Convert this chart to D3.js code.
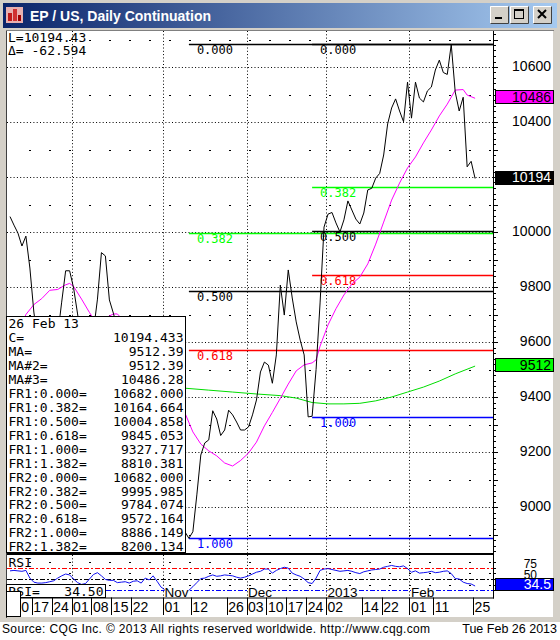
<!DOCTYPE html>
<html>
<head>
<meta charset="utf-8">
<script src="https://cdn.jsdelivr.net/npm/d3@7"></script>
<style>
  body { margin: 0; background: #fff; }
  svg { display: block; }
</style>
</head>
<body>
<div id="wrapper"></div>
<script>
// 1. Data (day index 0 = 7 Sep 2012, last = 25/26 Feb 2013)
const closes = [
  10056, 10025, 9996, 9949, 9985, 9869, 9709, 9600, 9540, 9500,
  9520, 9580, 9625, 9745, 9859, 9859, 9796, 9702, 9600, 9550,
  9580, 9640, 9756, 9925, 9913, 9753, 9705, 9650, 9620, 9570,
  9520, 9480, 9500, 9450, 9420, 9380, 9400, 9340, 9290, 9240,
  9190, 9120, 9060, 8990, 8910, 8886.149, 8910, 9044, 9189, 9233,
  9244, 9350, 9320, 9260, 9280, 9352, 9335, 9309, 9280, 9280,
  9291, 9335, 9389, 9491, 9527, 9516, 9450, 9553, 9807, 9698,
  9862, 9760, 9673, 9607, 9553, 9327.717, 9330, 9500, 9742, 10018,
  10065, 10071, 10033, 10000, 10044, 10113, 10080, 10047, 10029, 10069,
  10153, 10159, 10196, 10213, 10280, 10393, 10451, 10484, 10440, 10401,
  10545, 10414, 10545, 10487, 10473, 10513, 10527, 10589, 10625, 10580,
  10573, 10682, 10509, 10440, 10490, 10237, 10257.027, 10194.433
]

const rsiValues = [
  68, 69, 68, 67, 69, 52, 43, 41, 41, 42,
  44, 46, 52, 57, 61, 59, 50, 42, 38, 40,
  50, 60, 64, 57, 49, 47, 47, 42, 43, 44,
  41, 45, 46, 41, 52, 48, 57, 45, 32, 26,
  24, 23, 25, 22, 24, 25, 33, 42, 51, 52,
  56, 59, 56, 57, 59, 58, 57, 54, 52, 54,
  57, 61, 65, 67, 72, 72, 63, 69, 73, 76,
  74, 63, 59, 56, 50, 42, 40, 52, 69, 72,
  73, 71, 69, 67, 68, 69, 67, 64, 62, 66,
  68, 70, 71, 72, 76, 78, 80, 78, 77, 79,
  73, 65, 68, 63, 64, 65, 67, 64, 65, 67,
  68, 62, 51, 50, 43, 40, 39, 34.5
]

// magenta MA#3
const ma3Days = [2, 4, 6, 8, 10, 12, 14, 15, 16, 18, 20, 22, 24, 26, 27, 28, 30, 32, 34, 36,
  38, 40, 42, 44, 46, 48, 50, 52, 54, 56, 58, 60, 62, 64, 66, 68, 70, 72, 74, 76,
  77, 78, 80, 82, 84, 86, 88, 90, 92, 94, 96, 98, 100, 102, 104, 106, 108, 110, 112, 114,
  115, 117]
const ma3Values = [9625, 9700, 9736, 9758, 9788, 9791, 9808, 9813, 9802, 9756,
  9707, 9662, 9687, 9702, 9702, 9687, 9640, 9610, 9580, 9540,
  9500, 9460, 9420, 9342, 9273, 9229, 9204, 9186, 9160, 9149,
  9169, 9196, 9236, 9295, 9344, 9395, 9447, 9495, 9517, 9524,
  9535, 9585, 9662, 9721, 9771, 9811, 9836, 9884, 9956, 10036,
  10116, 10178, 10233, 10273, 10324, 10371, 10422, 10465, 10516, 10518,
  10498, 10486.28]

// green MA (= MA#2)
const maDays = [40, 44, 50, 56, 62, 68, 72, 76, 80, 84, 88, 92, 96, 100, 104, 108, 112, 117]
const maValues = [9440, 9432, 9425, 9418, 9411, 9405, 9396, 9380, 9375, 9375,
  9377, 9386, 9400, 9418, 9436, 9458, 9484, 9512.39]

// fibonacci retracements
const fibRatios = ["0.000", "0.382", "0.500", "0.618", "1.000", "1.382"]
const fibColors = ["#000000", "#00ff00", "#000000", "#ff0000", "#0000ff", "#0000ff"]
const fr1Values = [10682.000, 10164.664, 10004.858, 9845.053, 9327.717, 8810.381]
const fr2Values = [10682.000, 9995.985, 9784.074, 9572.164, 8886.149, 8200.134]
const frStartDays = [76, 45]

// axis ticks
const priceTicks = [10600, 10400, 10200, 10000, 9800, 9600, 9400, 9200, 9000]
const rsiTicks = [75, 50, 25]
const dayTicks = [1, 6, 11, 16, 21, 26, 31, 39, 46, 55, 60, 65, 70, 75, 80, 89, 94, 101, 107, 117]
const dayLabels = ["10", "17", "24", "01", "08", "15", "22", "01", "12", "26",
  "03", "10", "17", "24", "02", "14", "22", "01", "11", "25"]
const monthDays = [16, 39, 60, 80, 101]
// the October label sits under the RSI readout box, so it is left out
const monthLabels = ["", "Nov", "Dec", "2013", "Feb"]

// 2. Dimensions
const dims = {
  width: 560, height: 640,
  left: 7, right: 493,
  top: 31, bottom: 553,
  rsiTop: 555, rsiBottom: 597.5,
  axisBottom: 616,
}
const sans = "'Liberation Sans', Arial, sans-serif"
const mono = "'DejaVu Sans Mono', monospace"

// 3. Canvas
const svg = d3.select("#wrapper").append("svg")
  .attr("width", dims.width)
  .attr("height", dims.height)
  .style("font-family", sans)

const defs = svg.append("defs")
const grad = defs.append("linearGradient").attr("id", "titleGrad")
grad.append("stop").attr("offset", "0%").attr("stop-color", "#0a246a")
grad.append("stop").attr("offset", "100%").attr("stop-color", "#a6caf0")
defs.append("clipPath").attr("id", "mainClip").append("rect")
  .attr("x", dims.left).attr("y", dims.top)
  .attr("width", dims.right - dims.left).attr("height", dims.bottom - dims.top)
defs.append("clipPath").attr("id", "rsiClip").append("rect")
  .attr("x", dims.left).attr("y", dims.rsiTop)
  .attr("width", dims.right - dims.left).attr("height", dims.rsiBottom - dims.rsiTop)

// window frame
svg.append("rect").attr("width", dims.width).attr("height", 622).attr("fill", "#d4d0c8")
svg.append("rect").attr("x", 3).attr("y", 3).attr("width", 554).attr("height", 25)
  .attr("fill", "url(#titleGrad)")
svg.append("rect").attr("x", dims.left).attr("y", dims.top)
  .attr("width", 553 - dims.left).attr("height", dims.axisBottom - dims.top + 1)
  .attr("fill", "#fff")
svg.append("line").attr("x1", 6.5).attr("x2", 6.5).attr("y1", 30).attr("y2", 618)
  .attr("stroke", "#404040")
svg.append("line").attr("x1", 6).attr("x2", 554).attr("y1", 30.5).attr("y2", 30.5)
  .attr("stroke", "#808080")

// title bar
const icon = svg.append("g")
icon.append("rect").attr("x", 6).attr("y", 7).attr("width", 17).attr("height", 16).attr("fill", "#e8b0b0")
icon.append("rect").attr("x", 8).attr("y", 13).attr("width", 4).attr("height", 8).attr("fill", "#c01818")
icon.append("rect").attr("x", 13).attr("y", 9).attr("width", 4).attr("height", 12).attr("fill", "#d03030")
icon.append("rect").attr("x", 18).attr("y", 15).attr("width", 3).attr("height", 6).attr("fill", "#a00000")
svg.append("text").attr("x", 30).attr("y", 21)
  .style("font-size", "14px").style("font-weight", "bold").attr("fill", "#fff")
  .text("EP / US, Daily Continuation")

const buttons = [490, 510, 533]
buttons.forEach((bx, k) => {
  const g = svg.append("g")
  g.append("rect").attr("x", bx).attr("y", 6).attr("width", 19).attr("height", 18).attr("fill", "#d4d0c8")
  g.append("path").attr("d", `M${bx + 0.5},${23.5}V${6.5}H${bx + 18.5}`).attr("fill", "none").attr("stroke", "#fff")
  g.append("path").attr("d", `M${bx + 0.5},${23.5}H${bx + 18.5}V${6.5}`).attr("fill", "none").attr("stroke", "#404040")
  if (k === 0) {
    g.append("rect").attr("x", bx + 5).attr("y", 17).attr("width", 7).attr("height", 2).attr("fill", "#000")
  } else if (k === 1) {
    g.append("rect").attr("x", bx + 4.5).attr("y", 9.5).attr("width", 9).attr("height", 9)
      .attr("fill", "none").attr("stroke", "#000")
    g.append("line").attr("x1", bx + 4.5).attr("x2", bx + 13.5).attr("y1", 10.5).attr("y2", 10.5).attr("stroke", "#000")
  } else {
    g.append("path").attr("d", `M${bx + 5},10L${bx + 13},18M${bx + 13},10L${bx + 5},18`)
      .attr("stroke", "#000").attr("stroke-width", 2)
  }
})

// 4. Scales
const xScale = d3.scaleLinear()
  .domain([0, closes.length - 1])
  .range([10, 475.1])

const yScale = d3.scaleLinear()
  .domain([9000, 10600])
  .range([507, 67])

const rsiScale = d3.scaleLinear()
  .domain([25, 75])
  .range([590.3, 567.7])

const rsiLabelScale = d3.scaleLinear()
  .domain([25, 75])
  .range([589, 568])

// 5. Grid
const main = svg.append("g").attr("clip-path", "url(#mainClip)")

main.selectAll(".hgrid")
  .data(d3.range(8800, 10801, 200))
  .join("line")
  .attr("x1", dims.left).attr("x2", dims.right)
  .attr("y1", d => Math.round(yScale(d)) + 0.5).attr("y2", d => Math.round(yScale(d)) + 0.5)
  .attr("stroke", "#000").attr("stroke-dasharray", "1,2.3")

main.selectAll(".hhalf")
  .data(d3.range(8900, 10801, 200))
  .join("line")
  .attr("x1", 29).attr("x2", dims.right)
  .attr("y1", d => Math.round(yScale(d)) + 0.5).attr("y2", d => Math.round(yScale(d)) + 0.5)
  .attr("stroke", "#000").attr("stroke-dasharray", "2,18")

main.selectAll(".vgrid")
  .data(monthDays)
  .join("line")
  .attr("x1", d => Math.round(xScale(d) - 2) + 0.5).attr("x2", d => Math.round(xScale(d) - 2) + 0.5)
  .attr("y1", dims.top).attr("y2", dims.bottom)
  .attr("stroke", "#000").attr("stroke-dasharray", "1,2.3")

// fibonacci lines
const fibs = []
;[fr1Values, fr2Values].forEach((vals, s) => {
  vals.forEach((v, k) => fibs.push({ v, k, start: frStartDays[s] }))
})
main.selectAll(".fib")
  .data(fibs)
  .join("line")
  .attr("x1", d => xScale(d.start)).attr("x2", dims.right)
  .attr("y1", d => Math.round(yScale(d.v)) + 0.5).attr("y2", d => Math.round(yScale(d.v)) + 0.5)
  .attr("stroke", d => fibColors[d.k]).attr("stroke-width", 1.5)
main.selectAll(".fibLabel")
  .data(fibs)
  .join("text")
  .attr("x", d => xScale(d.start) + 8)
  .attr("y", d => yScale(d.v) + 10)
  .style("font-family", mono).style("font-size", "12px")
  .attr("fill", d => fibColors[d.k])
  .text(d => fibRatios[d.k])

// 6. Lines
const maLine = d3.line().x(d => xScale(d[0])).y(d => yScale(d[1]))

main.append("path")
  .datum(maDays.map((d, k) => [d, maValues[k]]))
  .attr("d", maLine)
  .attr("fill", "none").attr("stroke", "#00dd00").attr("stroke-width", 1)

main.append("path")
  .datum(ma3Days.map((d, k) => [d, ma3Values[k]]))
  .attr("d", maLine)
  .attr("fill", "none").attr("stroke", "#ff00ff").attr("stroke-width", 1)

main.append("path")
  .datum(closes)
  .attr("d", d3.line().x((d, i) => xScale(i)).y(d => yScale(d)))
  .attr("fill", "none").attr("stroke", "#000").attr("stroke-width", 1)

// top-left readout
const last = closes[closes.length - 1]
const prev = closes[closes.length - 2]
svg.append("text").attr("x", 8).attr("y", 42)
  .style("font-family", mono).style("font-size", "13px")
  .text("L=" + d3.format(".2f")(last))
svg.append("text").attr("x", 8).attr("y", 55)
  .style("font-family", mono).style("font-size", "13px")
  .text("\u0394= " + d3.format(".3f")(last - prev).replace("\u2212", "-"))

// data window
const boxLabels = ["26 Feb 13", "C=", "MA=", "MA#2=", "MA#3="]
  .concat(fibRatios.map(r => "FR1:" + r + "="))
  .concat(fibRatios.map(r => "FR2:" + r + "="))
const boxValues = ["", d3.format(".3f")(last),
  d3.format(".2f")(maValues[maValues.length - 1]),
  d3.format(".2f")(maValues[maValues.length - 1]),
  d3.format(".2f")(ma3Values[ma3Values.length - 1])]
  .concat(fr1Values.map(d3.format(".3f")))
  .concat(fr2Values.map(d3.format(".3f")))

svg.append("rect").attr("x", 6.5).attr("y", 316.5).attr("width", 179).attr("height", 236)
  .attr("fill", "#fff").attr("stroke", "#000")
const rows = svg.append("g").style("font-family", mono).style("font-size", "13px")
rows.selectAll(".lab").data(boxLabels).join("text")
  .attr("x", 8.5).attr("y", (d, i) => 328 + i * 13.96).text(d => d)
rows.selectAll(".val").data(boxValues).join("text")
  .attr("x", 183.5).attr("y", (d, i) => 328 + i * 13.96)
  .attr("text-anchor", "end").text(d => d)

// main bottom border
svg.append("line").attr("x1", dims.left).attr("x2", dims.right + 1)
  .attr("y1", 554).attr("y2", 554).attr("stroke", "#000").attr("stroke-width", 2)

// 7. RSI panel
const rsiG = svg.append("g").attr("clip-path", "url(#rsiClip)")
rsiG.selectAll(".rhalf").data([87.5, 62.5, 37.5]).join("line")
  .attr("x1", 29).attr("x2", dims.right)
  .attr("y1", d => Math.round(rsiScale(d)) + 0.5).attr("y2", d => Math.round(rsiScale(d)) + 0.5)
  .attr("stroke", "#000").attr("stroke-dasharray", "2,18")
rsiG.selectAll(".rv").data(monthDays).join("line")
  .attr("x1", d => Math.round(xScale(d) - 2) + 0.5).attr("x2", d => Math.round(xScale(d) - 2) + 0.5)
  .attr("y1", dims.rsiTop).attr("y2", dims.rsiBottom)
  .attr("stroke", "#000").attr("stroke-dasharray", "1,2.3")
const rsiLineColors = ["#ff0000", "#000000", "#0000ff"]
rsiG.selectAll(".rlev").data(rsiTicks).join("line")
  .attr("x1", dims.left).attr("x2", dims.right)
  .attr("y1", d => Math.round(rsiScale(d)) + 0.5).attr("y2", d => Math.round(rsiScale(d)) + 0.5)
  .attr("stroke", (d, i) => rsiLineColors[i]).attr("stroke-dasharray", "5,2,2,2")
rsiG.append("path")
  .datum(rsiValues)
  .attr("d", d3.line().x((d, i) => xScale(i)).y(d => rsiScale(d)))
  .attr("fill", "none").attr("stroke", "#1010f0").attr("stroke-width", 1)

// month labels with white backing
monthDays.forEach((d, k) => {
  if (!monthLabels[k]) return
  const g = svg.append("g")
  const bg = g.append("rect").attr("fill", "#fff")
  const t = g.append("text").attr("x", xScale(d) - 0.5).attr("y", 596.5)
    .style("font-size", "13.5px").text(monthLabels[k])
  const bb = t.node().getBBox()
  bg.attr("x", bb.x).attr("y", bb.y + 2).attr("width", bb.width).attr("height", dims.rsiBottom - bb.y - 2.5)
})

svg.append("text").attr("x", 8.5).attr("y", 567)
  .style("font-family", mono).style("font-size", "13px").text("RSI")
svg.append("rect").attr("x", 6.5).attr("y", 584.5).attr("width", 99).attr("height", 13)
  .attr("fill", "#fff").attr("stroke", "#000")
svg.append("text").attr("x", 8.5).attr("y", 595.5)
  .style("font-family", mono).style("font-size", "13px").text("RSI=")
svg.append("text").attr("x", 103.5).attr("y", 595.5).attr("text-anchor", "end")
  .style("font-family", mono).style("font-size", "13px")
  .text(d3.format(".2f")(rsiValues[rsiValues.length - 1]))

svg.append("line").attr("x1", dims.left).attr("x2", dims.right + 1)
  .attr("y1", dims.rsiBottom + 0.5).attr("y2", dims.rsiBottom + 0.5).attr("stroke", "#000")

// 8. Date axis
svg.selectAll(".dsep").data(dayTicks).join("line")
  .attr("x1", d => Math.round(xScale(d) - 2) + 0.5).attr("x2", d => Math.round(xScale(d) - 2) + 0.5)
  .attr("y1", dims.rsiBottom).attr("y2", 615)
  .attr("stroke", "#000")
svg.selectAll(".dlab").data(dayTicks).join("text")
  .attr("x", d => xScale(d) - 0.5).attr("y", 612)
  .style("font-size", "14px")
  .text((d, i) => dayLabels[i])
svg.append("rect").attr("x", 6.5).attr("y", 591.5).attr("width", 14).attr("height", 25)
  .attr("fill", "#fff").attr("stroke", "#000")

// 9. Right axis
svg.append("line").attr("x1", dims.right + 0.5).attr("x2", dims.right + 0.5)
  .attr("y1", dims.top).attr("y2", dims.rsiBottom + 1).attr("stroke", "#000")
svg.selectAll(".ptick").data(d3.range(8840, 10740, 20)).join("line")
  .attr("x1", dims.right).attr("x2", d => dims.right + (d % 100 === 0 ? 5 : 3))
  .attr("y1", d => Math.round(yScale(d)) + 0.5).attr("y2", d => Math.round(yScale(d)) + 0.5)
  .attr("stroke", "#000")
svg.selectAll(".rtick").data(d3.range(25, 100, 12.5)).join("line")
  .attr("x1", dims.right).attr("x2", dims.right + 3)
  .attr("y1", d => Math.round(rsiScale(d)) + 0.5).attr("y2", d => Math.round(rsiScale(d)) + 0.5)
  .attr("stroke", "#000")

svg.selectAll(".plab").data(priceTicks).join("text")
  .attr("x", 551).attr("y", d => yScale(d) + 3.5)
  .attr("text-anchor", "end").style("font-size", "14px")
  .text(d => d)

svg.selectAll(".rlab").data(rsiTicks).join("text")
  .attr("x", 537).attr("y", d => rsiLabelScale(d))
  .attr("text-anchor", "end").style("font-size", "12px")
  .text(d => d)

const valueBoxes = [
  { v: ma3Values[ma3Values.length - 1], fill: "#ff00ff", color: "#000" },
  { v: last, fill: "#000000", color: "#fff" },
  { v: maValues[maValues.length - 1], fill: "#00ff00", color: "#000" },
]
valueBoxes.forEach(b => {
  svg.append("rect").attr("x", 495.5).attr("y", Math.round(yScale(b.v)) - 7.5)
    .attr("width", 58).attr("height", 13).attr("fill", b.fill).attr("stroke", "#000")
  svg.append("text").attr("x", 551).attr("y", yScale(b.v) + 3.5)
    .attr("text-anchor", "end").style("font-size", "14px").attr("fill", b.color)
    .text(Math.round(b.v))
})
const lastRsi = rsiValues[rsiValues.length - 1]
svg.append("rect").attr("x", 495.5).attr("y", Math.round(rsiScale(lastRsi)) - 7.5)
  .attr("width", 58).attr("height", 12).attr("fill", "#0000ff").attr("stroke", "#000")
svg.append("text").attr("x", 551).attr("y", rsiScale(lastRsi) + 3)
  .attr("text-anchor", "end").style("font-size", "14px").attr("fill", "#fff")
  .text(d3.format(".1f")(lastRsi))

// 10. Footer
svg.append("rect").attr("y", 622).attr("width", dims.width).attr("height", 18).attr("fill", "#fff")
svg.append("text").attr("x", 2).attr("y", 633)
  .attr("textLength", 428).attr("lengthAdjust", "spacing")
  .style("font-size", "12px").text("Source: CQG Inc. \u00a9 2013 All rights reserved worldwide. http://www.cqg.com")
svg.append("text").attr("x", 557).attr("y", 633).attr("text-anchor", "end")
  .style("font-size", "12.5px").text("Tue Feb 26 2013")
</script>
</body>
</html>
